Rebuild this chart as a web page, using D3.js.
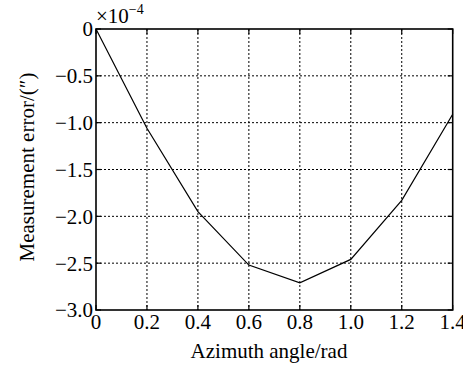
<!DOCTYPE html>
<html>
<head>
<meta charset="utf-8">
<script src="https://cdn.jsdelivr.net/npm/d3@7"></script>
<style>
  body { margin: 0; background: #fff; }
  text { font-family: "Liberation Serif", "Times New Roman", serif; fill: #000; }
</style>
</head>
<body>
<div id="viz"></div>
<script>
// data (values in units of 1e-4)
const angles = [0, 0.2, 0.4, 0.6, 0.8, 1.0, 1.2, 1.4];
const errors = [0, -1.06, -1.95, -2.52, -2.71, -2.46, -1.83, -0.91];
const xTicks = [0, 0.2, 0.4, 0.6, 0.8, 1.0, 1.2, 1.4];
const yTicks = [0, -0.5, -1.0, -1.5, -2.0, -2.5, -3.0];

const width = 463, height = 365;
const margin = { left: 96, right: 10, top: 29, bottom: 55 };

const svg = d3.select("#viz").append("svg")
    .attr("width", width)
    .attr("height", height);

const x = d3.scaleLinear().domain([0, 1.4]).range([margin.left, 452.7]);
const y = d3.scaleLinear().domain([-3, 0]).range([310, margin.top]);

const fmtX = d => d === 0 ? "0" : d.toFixed(1);
const fmtY = d => d === 0 ? "0" : "\u2212" + Math.abs(d).toFixed(1);

// dotted grid
svg.append("g").selectAll("line.gx")
    .data(xTicks.slice(1, -1)).join("line")
    .attr("x1", d => x(d)).attr("x2", d => x(d))
    .attr("y1", y(0)).attr("y2", y(-3))
    .attr("stroke", "#000").attr("stroke-width", 1)
    .attr("stroke-dasharray", "2,2");

svg.append("g").selectAll("line.gy")
    .data(yTicks.slice(1, -1)).join("line")
    .attr("x1", x(0)).attr("x2", x(1.4))
    .attr("y1", d => y(d)).attr("y2", d => y(d))
    .attr("stroke", "#000").attr("stroke-width", 1)
    .attr("stroke-dasharray", "2,2");

// inward ticks on all four sides
const tk = 5;
const ticks = svg.append("g").attr("stroke", "#000").attr("stroke-width", 1.2);
xTicks.forEach(d => {
    ticks.append("line").attr("x1", x(d)).attr("x2", x(d)).attr("y1", y(-3)).attr("y2", y(-3) - tk);
    ticks.append("line").attr("x1", x(d)).attr("x2", x(d)).attr("y1", y(0)).attr("y2", y(0) + tk);
});
yTicks.forEach(d => {
    ticks.append("line").attr("x1", x(0)).attr("x2", x(0) + tk).attr("y1", y(d)).attr("y2", y(d));
    ticks.append("line").attr("x1", x(1.4)).attr("x2", x(1.4) - tk).attr("y1", y(d)).attr("y2", y(d));
});

// frame
svg.append("rect")
    .attr("x", x(0)).attr("y", y(0))
    .attr("width", x(1.4) - x(0)).attr("height", y(-3) - y(0))
    .attr("fill", "none").attr("stroke", "#000").attr("stroke-width", 1.6);

// data line
const line = d3.line()
    .x((d, i) => x(angles[i]))
    .y(d => y(d));

svg.append("path")
    .datum(errors)
    .attr("d", line)
    .attr("fill", "none")
    .attr("stroke", "#000")
    .attr("stroke-width", 1.2);

// tick labels
svg.append("g").selectAll("text")
    .data(xTicks).join("text")
    .attr("x", d => x(d))
    .attr("y", 329)
    .attr("text-anchor", "middle")
    .attr("font-size", "21px")
    .text(fmtX);

svg.append("g").selectAll("text")
    .data(yTicks).join("text")
    .attr("x", 93)
    .attr("y", d => y(d))
    .attr("dy", "0.35em")
    .attr("text-anchor", "end")
    .attr("font-size", "21px")
    .text(fmtY);

// exponent
const ex = svg.append("text")
    .attr("x", 96).attr("y", 23)
    .attr("font-size", "21px");
ex.append("tspan").text("\u00d710");
ex.append("tspan").attr("dy", -9).attr("font-size", "14px").text("\u22124");

// axis titles
svg.append("text")
    .attr("x", 269).attr("y", 358)
    .attr("text-anchor", "middle")
    .attr("font-size", "21px")
    .text("Azimuth angle/rad");

svg.append("text")
    .attr("transform", "translate(34,167) rotate(-90)")
    .attr("text-anchor", "middle")
    .attr("font-size", "21px")
    .text("Measurement error/(\u2033)");
</script>
</body>
</html>
